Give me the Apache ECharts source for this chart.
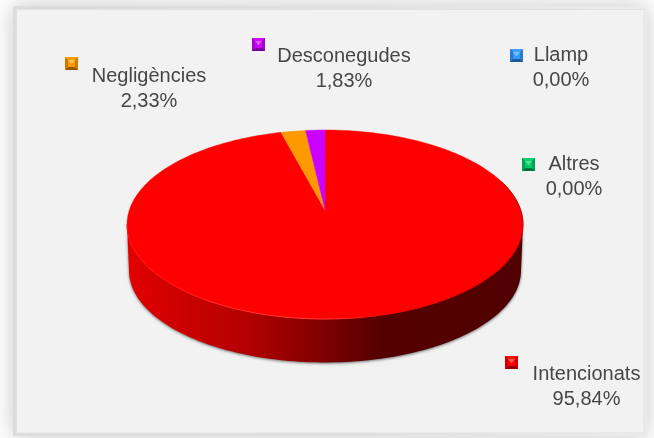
<!DOCTYPE html>
<html>
<head>
<meta charset="utf-8">
<style>html,body{margin:0;padding:0;background:#fff}#c{width:654px;height:438px}</style>
<script src="https://cdn.jsdelivr.net/npm/echarts@6/dist/echarts.min.js"></script>
</head>
<body>
<div id="c"></div>
<script>
// Data
var categories = ['Intencionats', 'Negligències', 'Desconegudes', 'Llamp', 'Altres'];
var percentages = [95.84, 2.33, 1.83, 0, 0];
var percentLabels = ['95,84%', '2,33%', '1,83%', '0,00%', '0,00%'];
var colors = ['#ff0000', '#ff9900', '#cc00ff', '#3399ff', '#00cc66'];

// Layout (tilted pie projection and label placement)
var FACE = {cx: 325, cy: 224.5, rx: 198, ry: 94.5};
var BASE = {cx: 325, cy: 270.5, rx: 196, ry: 92};
var TILT = 0.153;
var labelCenters = [[586.5, 374.5], [149, 76.5], [344, 56.5], [561, 55.5], [574, 164.5]];
var markerCorners = [[505, 356], [65, 57], [252, 38], [510, 49], [522, 158]];
var FONT = '"Liberation Sans"';

var chart = echarts.init(document.getElementById('c'), null, {renderer: 'canvas'});

function rim(t) { // t: fraction of the whole pie, clockwise from top
  var a = t * 2 * Math.PI, x = Math.sin(a), y = Math.cos(a);
  var d = 1 + TILT * y;
  var xp = x * Math.sqrt(1 - TILT * TILT) / d, yp = (y + TILT) / d;
  return [FACE.cx + FACE.rx * xp, FACE.cy - FACE.ry * yp];
}
function apex() { return [FACE.cx, FACE.cy - FACE.ry * TILT]; }
function ell(E, a) { return [E.cx + E.rx * Math.cos(a), E.cy + E.ry * Math.sin(a)]; }
function shade(hex, f) {
  var c = echarts.color.parse(hex);
  var m = function (v) { return Math.round(f > 0 ? v + (255 - v) * f : v * (1 + f)); };
  return 'rgb(' + m(c[0]) + ',' + m(c[1]) + ',' + m(c[2]) + ')';
}
function hGrad(stops) {
  return new echarts.graphic.LinearGradient(0, 0, 1, 0, stops.map(function (s) { return {offset: s[0], color: s[1]}; }));
}

function sidePiece() {
  var pts = [], i;
  for (i = 0; i <= 120; i++) pts.push(ell(BASE, Math.PI - Math.PI * i / 120));
  pts.push(ell(FACE, 0));
  for (i = 0; i <= 120; i++) pts.push(ell(FACE, Math.PI * i / 120));
  return {
    type: 'polygon', shape: {points: pts}, z2: 1,
    style: {
      fill: hGrad([[0, '#e40000'], [0.1, '#d20000'], [0.3, '#b40000'], [0.5, '#7c0000'], [0.64, '#550000'], [1, '#4f0000']]),
      shadowBlur: 3, shadowColor: 'rgba(0,0,0,0.55)', shadowOffsetY: 1
    }
  };
}
function rimLine() {
  var pts = [], i;
  for (i = 0; i <= 140; i++) pts.push(ell(FACE, Math.PI - (Math.PI * 1.15) * i / 140));
  return {
    type: 'polyline', shape: {points: pts}, z2: 5,
    style: {fill: null, lineWidth: 1, stroke: hGrad([[0, '#ff1010'], [0.5, '#ff3a3a'], [0.62, '#ff0000'], [1, '#b00000']])}
  };
}
function marker(i) {
  var x = markerCorners[i][0], y = markerCorners[i][1], s = 13, b = 3, c = colors[i];
  function q(p, f) { return {type: 'polygon', shape: {points: p}, z2: 6, style: {fill: f}}; }
  return {type: 'group', children: [
    {type: 'rect', shape: {x: x, y: y, width: s, height: s}, z2: 6, style: {fill: c}},
    q([[x, y], [x + s, y], [x + s - b, y + b], [x + b, y + b]], shade(c, 0.05)),
    q([[x, y], [x + b, y + b], [x + b, y + s - b], [x, y + s]], shade(c, -0.2)),
    q([[x + s, y], [x + s - b, y + b], [x + s - b, y + s - b], [x + s, y + s]], shade(c, -0.2)),
    q([[x, y + s], [x + b, y + s - b], [x + s - b, y + s - b], [x + s, y + s]], shade(c, -0.42)),
    q([[x + b, y + b], [x + s - b, y + b], [x + s / 2, y + s / 2 + 1]], shade(c, 0.35))
  ]};
}
function label(i, text, dy) {
  return {
    type: 'text', z2: 7,
    style: {
      text: text, x: labelCenters[i][0], y: labelCenters[i][1] + dy,
      align: 'center', verticalAlign: 'middle',
      font: '20px ' + FONT, fill: '#464646'
    }
  };
}

var total = percentages.reduce(function (a, b) { return a + b; }, 0);

function renderItem(params, api) {
  var i = params.dataIndex, before = 0;
  for (var k = 0; k < i; k++) before += percentages[k];
  var v = api.value(1);
  var children = [];
  if (i === 0) children.push(sidePiece());
  if (v > 0) {
    var pts = [apex()], n = Math.max(2, Math.ceil(v / total * 240));
    for (var j = 0; j <= n; j++) pts.push(rim((before + v * j / n) / total));
    children.push({
      type: 'polygon', shape: {points: pts}, z2: 3,
      style: {fill: colors[i], stroke: colors[i], lineWidth: 0.4}
    });
  }
  if (i === 0) children.push(rimLine());
  children.push(marker(i));
  children.push(label(i, categories[i], 0));
  children.push(label(i, percentLabels[i], 24.5));
  return {type: 'group', children: children};
}

chart.setOption({
  animation: false,
  backgroundColor: '#ffffff',
  graphic: [{
    type: 'rect', z: -2, silent: true,
    shape: {x: 13, y: 6, width: 634, height: 430},
    style: {
      fill: new echarts.graphic.LinearGradient(0, 0, 1, 0, [{offset: 0, color: '#dcdcdc'}, {offset: 0.5, color: '#e0e0e0'}, {offset: 1, color: '#ebebeb'}]),
      shadowBlur: 22, shadowColor: 'rgba(0,0,0,0.22)'
    }
  }, {
    type: 'rect', z: -1, silent: true,
    shape: {x: 16.5, y: 9.5, width: 627.5, height: 423.5},
    style: {fill: '#f2f2f2', stroke: '#e2e2e2', lineWidth: 1}
  }],
  series: [{
    type: 'custom',
    coordinateSystem: 'none',
    silent: true,
    clip: false,
    renderItem: renderItem,
    data: categories.map(function (c, i) { return [c, percentages[i]]; })
  }]
});
</script>
</body>
</html>
